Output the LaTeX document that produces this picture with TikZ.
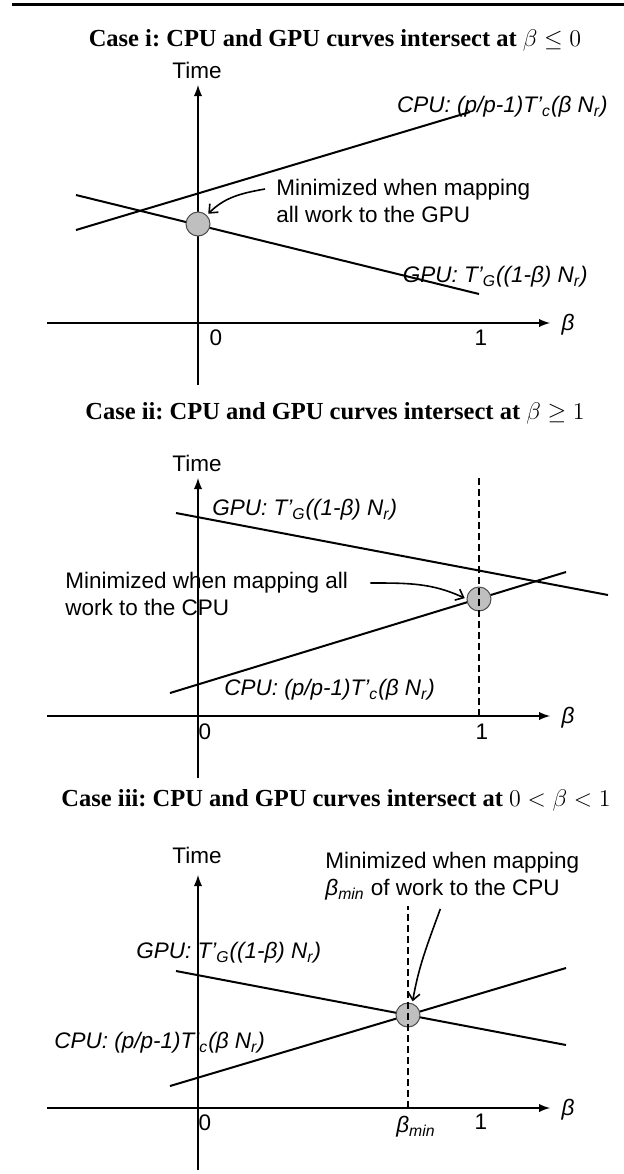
\documentclass[tikz,border=0pt]{standalone}
\usepackage[no-math]{fontspec}
\setmainfont{Liberation Serif}
\newfontfamily\arial{Liberation Sans}
\usetikzlibrary{arrows}
\usetikzlibrary{arrows.meta}

\begin{document}
\begin{tikzpicture}[
  x=5pt, y=5pt,
  axis/.style={line width=0.9pt, -latex},
  curve/.style={line width=1pt},
  guide/.style={line width=0.9pt, dash pattern=on 3.5pt off 2pt},
  mpnt/.style={circle, draw=gray!60!black, line width=0.5pt, fill=gray!50, minimum size=12pt, inner sep=0pt},
  txt/.style={font=\fontsize{11.25}{13.5}\selectfont\arial, inner sep=0pt},
  lbl/.style={txt, font=\fontsize{11.25}{13.5}\selectfont\arial\itshape},
  note/.style={txt, align=left},
  ttl/.style={font=\fontsize{12.25}{14}\selectfont\bfseries\frenchspacing, inner sep=0pt},
  callout/.style={line width=0.8pt, -{Straight Barb[length=3.5pt,width=6pt]}, shorten >=1pt},
]
\useasboundingbox (0,0) rectangle (62.4,-117.4);

\draw [line width=1.5pt] (1.2,-0.4) -- (62.4,-0.4);

% case i
\begin{scope}[shift={(19.8,-32.3)}]
\node [ttl] (title1) at (13.7,28.3) {Case i: CPU and GPU curves intersect at $\beta \le 0$};

\draw [axis] (-15.1,0) -- (35.2,0);
\draw [axis] (0,-6.2) -- (0,23.8);
\node [txt] (time1) at (-0.1,25.3) {Time};
\node [txt] (zero1) at (1.8,-1.5) {0};
\node [txt] (one1) at (28.3,-1.5) {1};
\node [lbl] (beta1) at (37,-0.2) {β};

\draw [curve] (-12.2,9.3) -- (27.2,21.1);
\draw [curve] (-12.2,12.8) -- (28.1,2.9);
\node [mpnt] (min1) at (0,9.9) {};

\node [lbl, anchor=east] (cpu1) at (41,21.6) {CPU: (p/p-1)T’\textsubscript{c}(β N\textsubscript{r})};
\node [lbl, anchor=east] (gpu1) at (39,4.6) {GPU: T’\textsubscript{G}((1-β) N\textsubscript{r})};

\node [note, anchor=west] (note1) at (7.8,12.25) {Minimized when mapping\\all work to the GPU};
\draw [callout] ([xshift=-5.5pt,yshift=5.75pt]note1.west) to [out=190,in=45] (min1.north east);
\end{scope}

% case ii
\begin{scope}[shift={(19.8,-71.6)}]
\node [ttl] (title2) at (13.7,30.3) {Case ii: CPU and GPU curves intersect at $\beta \ge 1$};

\draw [axis] (-15.1,0) -- (35.2,0);
\draw [axis] (0,-6.2) -- (0,23.8);
\node [txt] (time2) at (-0.1,25.3) {Time};
\node [txt] (zero2) at (0.7,-1.6) {0};
\node [txt] (one2) at (28.4,-1.6) {1};
\node [lbl] (beta2) at (37,-0.2) {β};

\draw [curve] (-2.2,20.3) -- (41,12.1);
\draw [curve] (-2.8,2.3) -- (36.8,14.4);
\node [mpnt] (min2) at (28.1,11.7) {};
\draw [guide] (28.1,0) -- (28.1,23.8);

\node [lbl, anchor=west] (gpu2) at (1.4,20.6) {GPU: T’\textsubscript{G}((1-β) N\textsubscript{r})};
\node [lbl, anchor=west] (cpu2) at (2.6,2.6) {CPU: (p/p-1)T’\textsubscript{c}(β N\textsubscript{r})};

\node [note, anchor=west] (note2) at (-13.3,12.25) {Minimized when mapping all\\work to the CPU};
\draw [callout] ([xshift=11pt,yshift=5.25pt]note2.east) to [out=0,in=155] (min2.west);
\end{scope}

% case iii
\begin{scope}[shift={(19.8,-110.8)}]
\node [ttl] (title3) at (13.8,30.8) {Case iii: CPU and GPU curves intersect at $0 < \beta < 1$};

\draw [axis] (-15.1,0) -- (35.2,0);
\draw [axis] (0,-6.2) -- (0,23.3);
\node [txt] (time3) at (-0.1,25.3) {Time};
\node [txt] (zero3) at (0.7,-1.5) {0};
\node [txt] (one3) at (28.3,-1.4) {1};
\node [lbl] (beta3) at (37,-0.2) {β};
\node [lbl] (bmin3) at (21.8,-1.9) {β\textsubscript{min}};

\draw [curve] (-2.2,13.7) -- (36.8,6.3);
\draw [curve] (-2.8,2.2) -- (36.8,14.0);
\node [mpnt] (min3) at (21,9.3) {};
\draw [guide] (21,0) -- (21,20.2);

\node [lbl, anchor=west] (gpu3) at (-6.2,15.5) {GPU: T’\textsubscript{G}((1-β) N\textsubscript{r})};
\node [lbl, anchor=west] (cpu3) at (-14.4,6.5) {CPU: (p/p-1)T’\textsubscript{c}(β N\textsubscript{r})};

\node [note, anchor=west] (note3) at (12.7,23.15) {Minimized when mapping\\{\itshape β\textsubscript{min}} of work to the CPU};
\draw [callout] ([xshift=-6pt,yshift=-4pt]note3.south) to [out=250,in=80] (min3.70);
\end{scope}

\end{tikzpicture}
\end{document}
